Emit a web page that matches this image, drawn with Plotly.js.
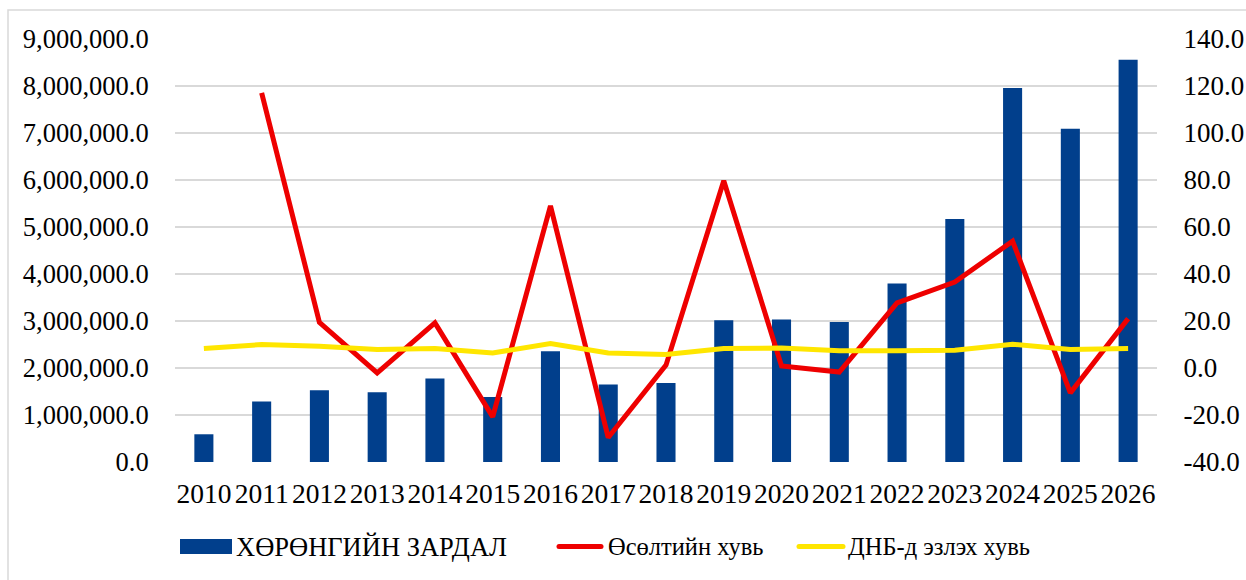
<!DOCTYPE html>
<html>
<head>
<meta charset="utf-8">
<script src="https://cdn.plot.ly/plotly-3.0.1.min.js"></script>
<style>
  html, body { margin: 0; padding: 0; background: #ffffff; }
  #chart { width: 1246px; height: 580px; }
</style>
</head>
<body>
<div id="chart"></div>
<script>
// ---- Data ----
var years = ["2010","2011","2012","2013","2014","2015","2016","2017","2018","2019","2020","2021","2022","2023","2024","2025","2026"];
var capitalSpending = [590000, 1285000, 1527000, 1484000, 1775000, 1385000, 2357000, 1647000, 1683000, 3017000, 3030000, 2980000, 3800000, 5170000, 7960000, 7090000, 8560000];
var growthRate = [null, 117.1, 19.4, -2.1, 19.2, -20.8, 69.0, -29.6, 1.2, 79.7, 0.9, -1.7, 27.7, 36.6, 54.0, -10.6, 21.0];
var gdpShare = [8.3, 10.0, 9.3, 7.9, 8.3, 6.4, 10.4, 6.4, 5.7, 8.3, 8.5, 7.3, 7.3, 7.6, 10.1, 7.9, 8.3];

var seriesNames = ["ХӨРӨНГИЙН ЗАРДАЛ", "Өсөлтийн хувь", "ДНБ-д эзлэх хувь"];

var leftTickVals = [0, 1000000, 2000000, 3000000, 4000000, 5000000, 6000000, 7000000, 8000000, 9000000];
var leftTickText = ["0.0", "1,000,000.0", "2,000,000.0", "3,000,000.0", "4,000,000.0", "5,000,000.0", "6,000,000.0", "7,000,000.0", "8,000,000.0", "9,000,000.0"];
var rightTickVals = [-40, -20, 0, 20, 40, 60, 80, 100, 120, 140];
var rightTickText = ["-40.0", "-20.0", "0.0", "20.0", "40.0", "60.0", "80.0", "100.0", "120.0", "140.0"];

// ---- Style ----
var BLUE = "#013F8C", RED = "#EE0000", YELLOW = "#FFE600", GRID = "#d9d9d9";
var FONT = "Liberation Serif";
var W = 1246, H = 580;
var M = {l: 175, r: 89, t: 39, b: 118};
var PW = W - M.l - M.r, PH = H - M.t - M.b;
function px(x) { return (x - M.l) / PW; }
function py(y) { return (H - M.b - y) / PH; }

var traces = [
  {
    type: "bar", x: years, y: capitalSpending, name: seriesNames[0],
    marker: {color: BLUE}, width: 0.33, yaxis: "y", hoverinfo: "x+y"
  },
  {
    type: "scatter", mode: "lines", x: years, y: growthRate, name: seriesNames[1],
    line: {color: RED, width: 5}, yaxis: "y2", connectgaps: false
  },
  {
    type: "scatter", mode: "lines", x: years, y: gdpShare, name: seriesNames[2],
    line: {color: YELLOW, width: 5}, yaxis: "y2"
  }
];

// custom legend
var legY = 546.5;
var shapes = [
  {type: "rect", xref: "paper", yref: "paper", x0: px(8), x1: px(1300), y0: py(10), y1: py(700),
   line: {color: GRID, width: 1.5}, fillcolor: "rgba(0,0,0,0)", layer: "below"},
  {type: "rect", xref: "paper", yref: "paper", x0: px(180), x1: px(232), y0: py(legY - 7.5), y1: py(legY + 7.5),
   line: {width: 0}, fillcolor: BLUE},
  {type: "line", xref: "paper", yref: "paper", x0: px(559), x1: px(601), y0: py(legY), y1: py(legY),
   line: {color: RED, width: 5}},
  {type: "line", xref: "paper", yref: "paper", x0: px(799), x1: px(843), y0: py(legY), y1: py(legY),
   line: {color: YELLOW, width: 5}}
];
[[559, RED], [601, RED], [799, YELLOW], [843, YELLOW]].forEach(function (c) {
  shapes.push({type: "circle", xref: "paper", yref: "paper",
    x0: px(c[0] - 2.5), x1: px(c[0] + 2.5), y0: py(legY + 2.5), y1: py(legY - 2.5),
    line: {width: 0}, fillcolor: c[1]});
});

var legTextX = [234, 606, 846];
var legSizes = [26.5, 24.5, 24.5];
var annotations = seriesNames.map(function (n, i) {
  return {text: n, xref: "paper", yref: "paper", x: px(legTextX[i]), y: py(legY),
    xanchor: "left", yanchor: "middle", showarrow: false,
    font: {family: FONT, size: legSizes[i], color: "#000"}};
});

var layout = {
  width: W, height: H,
  margin: M,
  paper_bgcolor: "#ffffff", plot_bgcolor: "#ffffff",
  showlegend: false,
  font: {family: FONT, size: 26, color: "#000"},
  xaxis: {
    type: "category", showgrid: false, zeroline: false, showline: false,
    tickangle: 0,
    ticks: "outside", ticklen: 7, tickcolor: "rgba(0,0,0,0)",
    tickfont: {family: FONT, size: 27.5, color: "#000"}, fixedrange: true
  },
  yaxis: {
    range: [0, 9000000], tickvals: leftTickVals, ticktext: leftTickText,
    showgrid: true, gridcolor: GRID, gridwidth: 1.5, zeroline: false, showline: false,
    ticks: "outside", ticklen: 20, tickcolor: "rgba(0,0,0,0)",
    tickfont: {family: FONT, size: 26.5, color: "#000"}
  },
  yaxis2: {
    range: [-40, 140], tickvals: rightTickVals, ticktext: rightTickText,
    overlaying: "y", side: "right", showgrid: false, zeroline: false, showline: false,
    ticks: "outside", ticklen: 20, tickcolor: "rgba(0,0,0,0)",
    tickfont: {family: FONT, size: 27, color: "#000"}
  },
  shapes: shapes,
  annotations: annotations,
  bargap: 0.67
};

Plotly.newPlot("chart", traces, layout, {displayModeBar: false, staticPlot: true});
</script>
</body>
</html>
